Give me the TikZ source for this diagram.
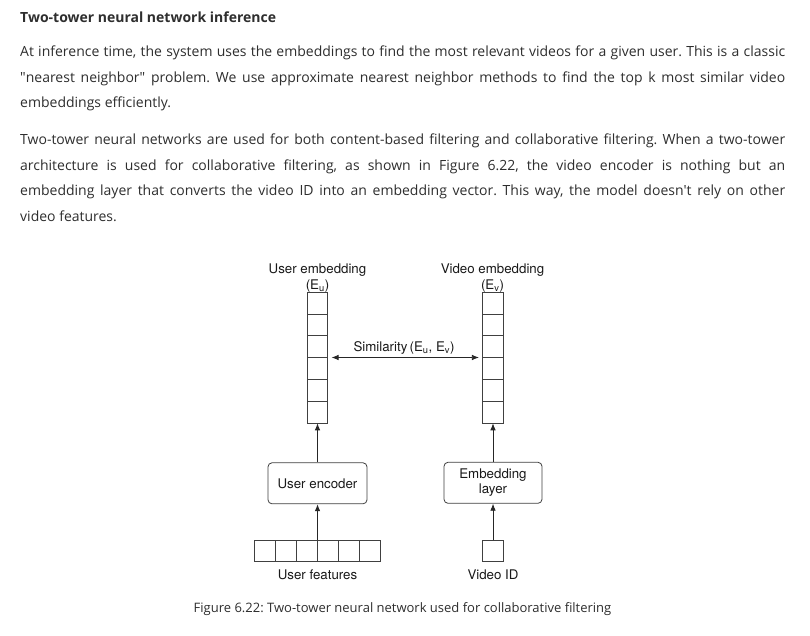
\documentclass[tikz,border=0pt]{standalone}
\usepackage{fontspec}
\setmainfont{Open Sans}
\newfontfamily\helv{TeX Gyre Heros}
\usetikzlibrary{shapes,arrows.meta}
\frenchspacing

\begin{document}
\begin{tikzpicture}[x=1pt,y=-1pt]
    \tikzstyle{every node}=[inner sep=0pt,text=black!82]
    \tikzstyle{textline}=[anchor=base west,font=\fontsize{14}{16}\selectfont]
    \tikzstyle{tag}=[anchor=base,text=black!90,font=\helv\fontsize{13.3}{14.5}\selectfont]
    \tikzstyle{vec}=[rectangle split,rectangle split parts=6,draw=black!75,line width=0.8pt,
      rectangle split empty part width=15pt,rectangle split empty part height=21pt,
      rectangle split empty part depth=0pt]
    \tikzstyle{cell}=[rectangle,draw=black!75,line width=0.8pt,minimum height=21pt]
    \tikzstyle{box}=[rectangle,draw=black!75,line width=0.8pt,rounded corners=4pt,
      minimum width=98pt,minimum height=41pt,align=center,text=black!90,
      font=\helv\fontsize{13.3}{14.5}\selectfont]
    \tikzstyle{link}=[draw=black!85,line width=0.8pt,-{Latex[length=7pt,width=5.5pt]}]
    \fill[white] (0,0) rectangle (810,636);
    \useasboundingbox (0,0) rectangle (810,636);
    \node[textline,font=\bfseries\fontsize{14}{16}\selectfont] (title) at (20,23)
      {Two-tower neural network inference};
    \node[textline] (p1a) at (20,57) {\makebox[765pt][s]{At inference time, the system
      uses the embeddings to find the most relevant videos for a given user. This is a classic}};
    \node[textline] (p1b) at (20,83) {\makebox[765pt][s]{\textquotedbl nearest
      neighbor\textquotedbl{} problem. We use approximate nearest neighbor methods to find
      the top k most similar video}};
    \node[textline] (p1c) at (20,108) {embeddings efficiently.};
    \node[textline] (p2a) at (20,145) {\makebox[765pt][s]{Two-tower neural networks are used
      for both content-based filtering and collaborative filtering. When a two-tower}};
    \node[textline] (p2b) at (20,171) {\makebox[765pt][s]{architecture is used for
      collaborative filtering, as shown in Figure 6.22, the video encoder is nothing but an}};
    \node[textline] (p2c) at (20,196) {\makebox[765pt][s]{embedding layer that converts the
      video ID into an embedding vector. This way, the model doesn\textquotesingle t rely on other}};
    \node[textline] (p2d) at (20,222) {video features.};
    \node[tag] (uembtxt) at (317.5,273.3) {User embedding};
    \node[tag] (uembsym) at (317.5,289) {(E\textsubscript{u})};
    \node[tag] (vembtxt) at (492.5,273.3) {Video embedding};
    \node[tag] (vembsym) at (492.5,289) {(E\textsubscript{v})};
    \node[vec] (uemb) at (317.5,357.5) {};
    \node[vec] (vemb) at (493,357.5) {};
    \node[tag] (sim) at (404,351.7) {Similarity\,(E\textsubscript{u}, E\textsubscript{v})};
    \node[box,minimum width=99pt] (uenc) at (317.5,483.3) {User encoder};
    \node[box] (elayer) at (493,482.8) {Embedding\\layer};
    \node[cell,minimum width=126pt] (ufeat) at (317.5,551.2) {};
    \foreach \k in {1,...,5}
      \draw[black!75,line width=0.8pt] ([xshift=\k*21pt]ufeat.north west)
        -- ([xshift=\k*21pt]ufeat.south west);
    \node[cell,minimum width=21pt] (vid) at (493,551.3) {};
    \node[tag] (ufeattxt) at (317.5,579.3) {User features};
    \node[tag] (vidtxt) at (493,579.3) {Video ID};
    \node[anchor=base,font=\fontsize{13}{15}\selectfont] (caption) at (402.5,612.5)
      {Figure 6.22: Two-tower neural network used for collaborative filtering};
    \draw[link] (uenc) -- (uemb);
    \draw[link] (ufeat) -- (uenc);
    \draw[link] (elayer) -- (vemb);
    \draw[link] (vid) -- (elayer);
    \draw[link,{Latex[length=7pt,width=5.5pt]}-{Latex[length=7pt,width=5.5pt]}]
      ([xshift=3.5pt]uemb.three split east) -- ([xshift=-3.5pt]vemb.three split west);
\end{tikzpicture}
\end{document}
